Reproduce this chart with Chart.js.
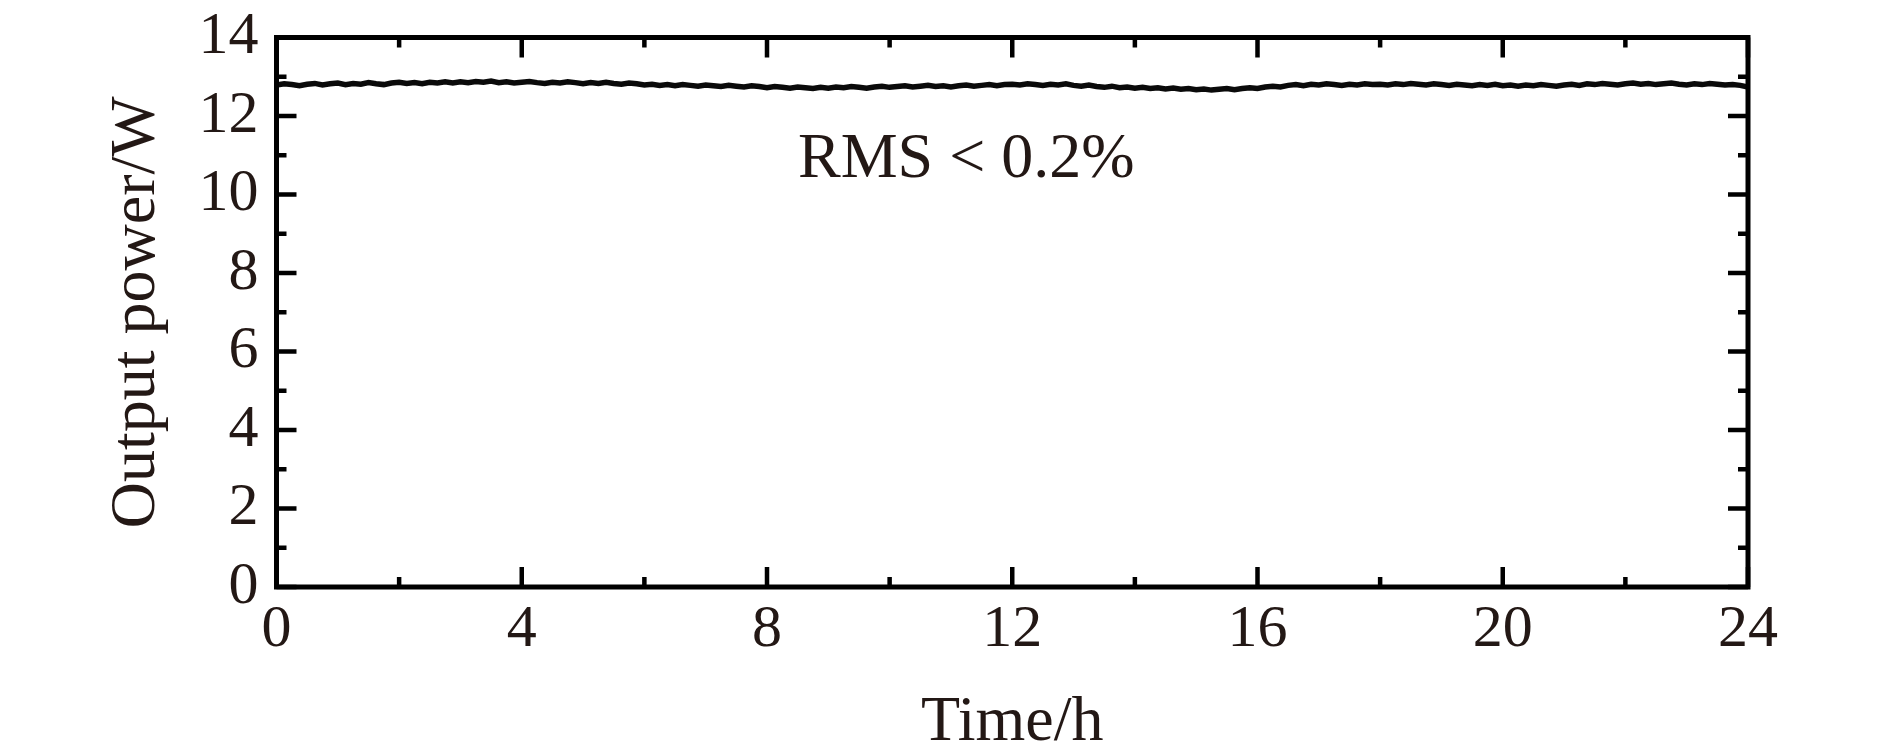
<!DOCTYPE html>
<html>
<head>
<meta charset="utf-8">
<script src="https://cdn.jsdelivr.net/npm/chart.js@4/dist/chart.umd.min.js"></script>
<style>
  html, body { margin: 0; padding: 0; background: #fff; }
  #chart { display: block; }
</style>
</head>
<body>
<canvas id="chart" width="1890" height="756"></canvas>
<script>
// time axis, hours (one reading every 7.5 min)
const hours = Array.from({ length: 193 }, (_, i) => i * 0.125);

// output power readings, W (one row = 3 hours)
const power = [
  12.79, 12.82, 12.80, 12.77, 12.81, 12.83, 12.79, 12.82, 12.84, 12.80, 12.83, 12.81, 12.85, 12.82, 12.80, 12.84, 12.86, 12.83, 12.85, 12.82, 12.86, 12.84, 12.87, 12.84,
  12.87, 12.85, 12.88, 12.86, 12.89, 12.85, 12.87, 12.84, 12.86, 12.88, 12.85, 12.83, 12.86, 12.84, 12.87, 12.85, 12.82, 12.85, 12.83, 12.86, 12.83, 12.81, 12.84, 12.82,
  12.79, 12.81, 12.78, 12.80, 12.77, 12.80, 12.78, 12.76, 12.79, 12.77, 12.75, 12.78, 12.76, 12.74, 12.77, 12.75, 12.72, 12.75, 12.73, 12.71, 12.74, 12.72, 12.70, 12.73,
  12.71, 12.74, 12.72, 12.75, 12.73, 12.71, 12.74, 12.76, 12.73, 12.75, 12.77, 12.74, 12.76, 12.78, 12.75, 12.77, 12.74, 12.77, 12.79, 12.76, 12.78, 12.80, 12.77, 12.80,
  12.81, 12.79, 12.82, 12.80, 12.78, 12.81, 12.79, 12.82, 12.78, 12.76, 12.79, 12.75, 12.73, 12.76, 12.72, 12.74, 12.71, 12.73, 12.70, 12.72, 12.69, 12.71, 12.68, 12.70,
  12.67, 12.69, 12.66, 12.68, 12.70, 12.67, 12.70, 12.72, 12.70, 12.74, 12.76, 12.74, 12.78, 12.80, 12.77, 12.81, 12.79, 12.82, 12.80, 12.78, 12.81, 12.79, 12.82, 12.80,
  12.81, 12.79, 12.82, 12.80, 12.83, 12.81, 12.79, 12.82, 12.80, 12.78, 12.81, 12.79, 12.77, 12.80, 12.78, 12.81, 12.77, 12.79, 12.76, 12.79, 12.77, 12.80, 12.78, 12.76,
  12.79, 12.81, 12.78, 12.82, 12.80, 12.83, 12.81, 12.79, 12.82, 12.84, 12.81, 12.83, 12.80, 12.82, 12.84, 12.81, 12.79, 12.82, 12.80, 12.83, 12.81, 12.79, 12.80, 12.78,
  12.74
];

const xMajor = [0, 4, 8, 12, 16, 20, 24];
const xMinor = [2, 6, 10, 14, 18, 22];
const yMajor = [0, 2, 4, 6, 8, 10, 12, 14];
const yMinor = [1, 3, 5, 7, 9, 11, 13];

const note = 'RMS < 0.2%';
const noteAt = { x: 11.25, y: 10.45 };

const textColor = '#231815';
const serif = '"Liberation Serif", "Times New Roman", serif';

// frame with inward ticks on all four sides
const framePlugin = {
  id: 'frame',
  afterDatasetsDraw(chart) {
    const { ctx, chartArea: a, scales: { x, y } } = chart;
    ctx.save();
    ctx.strokeStyle = '#000';
    ctx.lineWidth = 5;
    ctx.lineCap = 'butt';
    ctx.strokeRect(a.left, a.top, a.right - a.left, a.bottom - a.top);

    ctx.lineWidth = 4.5;
    const tickX = (v, len) => {
      const px = x.getPixelForValue(v);
      ctx.beginPath();
      ctx.moveTo(px, a.bottom); ctx.lineTo(px, a.bottom - len);
      ctx.moveTo(px, a.top); ctx.lineTo(px, a.top + len);
      ctx.stroke();
    };
    const tickY = (v, len) => {
      const py = y.getPixelForValue(v);
      ctx.beginPath();
      ctx.moveTo(a.left, py); ctx.lineTo(a.left + len, py);
      ctx.moveTo(a.right, py); ctx.lineTo(a.right - len, py);
      ctx.stroke();
    };
    xMajor.forEach(v => tickX(v, 20));
    xMinor.forEach(v => tickX(v, 10));
    yMajor.forEach(v => tickY(v, 20));
    yMinor.forEach(v => tickY(v, 10));

    // annotation
    ctx.fillStyle = textColor;
    ctx.font = '64px ' + serif;
    ctx.textAlign = 'center';
    ctx.textBaseline = 'alphabetic';
    ctx.fillText(note, x.getPixelForValue(noteAt.x), y.getPixelForValue(noteAt.y));
    ctx.restore();
  }
};

new Chart(document.getElementById('chart').getContext('2d'), {
  type: 'line',
  data: {
    labels: hours,
    datasets: [{
      data: power,
      borderColor: '#0a0a0a',
      borderWidth: 5.5,
      pointRadius: 0,
      tension: 0,
      fill: false
    }]
  },
  options: {
    responsive: false,
    animation: false,
    events: [],
    layout: { padding: { top: 37.5, right: 142, left: 0, bottom: 0 } },
    plugins: {
      legend: { display: false },
      tooltip: { enabled: false }
    },
    scales: {
      x: {
        type: 'linear',
        min: 0,
        max: 24,
        afterFit(scale) {
          scale.height = 169;
          scale.paddingLeft = 0;
          scale.paddingRight = 0;
        },
        afterBuildTicks(scale) { scale.ticks = xMajor.map(v => ({ value: v })); },
        grid: { display: false, drawTicks: false },
        border: { display: false },
        ticks: {
          color: textColor,
          font: { family: serif, size: 60 },
          padding: 7,
          maxRotation: 0,
          autoSkip: false
        },
        title: {
          display: true,
          text: 'Time/h',
          color: textColor,
          font: { family: serif, size: 64, lineHeight: 1 },
          padding: { top: 0, bottom: 1 }
        }
      },
      y: {
        min: 0,
        max: 14,
        afterFit(scale) {
          scale.width = 276.5;
          scale.paddingTop = 0;
          scale.paddingBottom = 0;
        },
        afterBuildTicks(scale) { scale.ticks = yMajor.map(v => ({ value: v })); },
        grid: { display: false, drawTicks: false },
        border: { display: false },
        ticks: {
          color: textColor,
          font: { family: serif, size: 60 },
          padding: 18
        },
        title: {
          display: true,
          text: 'Output power/W',
          color: textColor,
          font: { family: serif, size: 64 },
          padding: { top: 99, bottom: 0 }
        }
      }
    }
  },
  plugins: [framePlugin]
});
</script>
</body>
</html>
